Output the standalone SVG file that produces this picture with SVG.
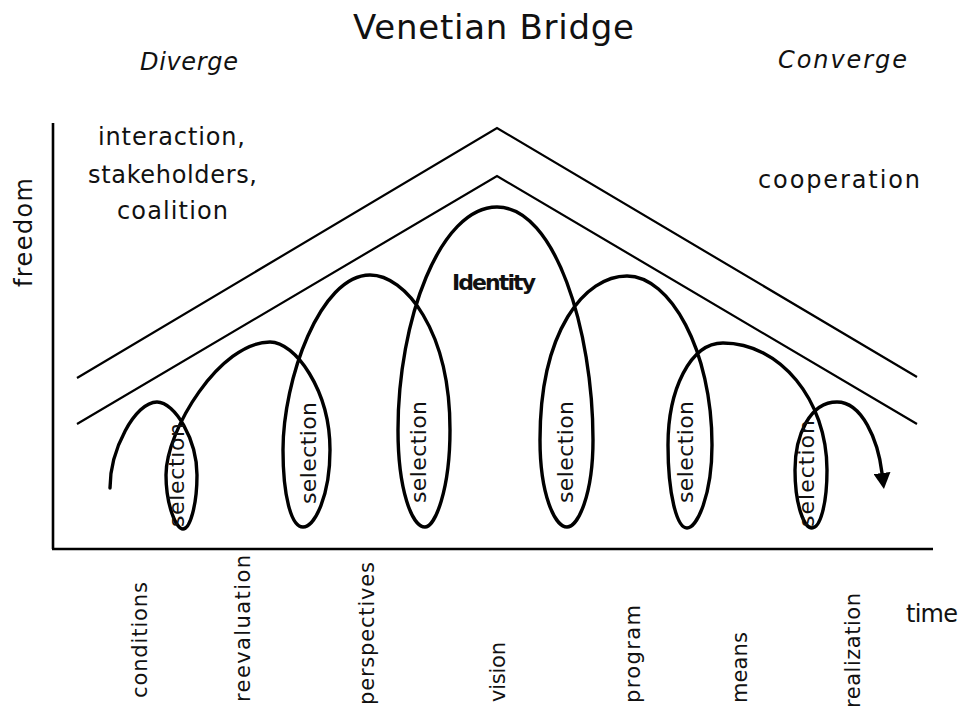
<svg xmlns="http://www.w3.org/2000/svg" width="962" height="710" viewBox="0 0 962 710">
<style>
  text { font-family: "DejaVu Sans", "Liberation Sans", sans-serif; fill: #111; }
  .title { font-size: 34px; }
  .side { font-size: 24px; font-style: italic; }
  .note { font-size: 24px; }
  .sel { font-size: 22px; }
  .lab { font-size: 21px; }
  .ident { font-size: 22px; font-weight: bold; }
  .axis { stroke: #000; stroke-width: 2.6; fill: none; }
  .roof { stroke: #000; stroke-width: 2.2; fill: none; stroke-linejoin: miter; }
  .spiral { stroke: #000; stroke-width: 3.4; fill: none; stroke-linecap: round; }
</style>
<defs>
  <marker id="arrow" markerUnits="userSpaceOnUse" markerWidth="17" markerHeight="17" refX="0" refY="8.5" orient="auto" viewBox="0 0 17 17">
    <path d="M0,0 L16,8.5 L0,17 z" fill="#000"/>
  </marker>
</defs>
<rect width="962" height="710" fill="#fff"/>

<g id="title">
  <text class="title" x="353" y="39" textLength="281">Venetian Bridge</text>
</g>
<g id="diverge"><text class="side" x="140" y="70" textLength="98">Diverge</text></g>
<g id="converge"><text class="side" x="778" y="68" textLength="129">Converge</text></g>

<g id="axes">
  <line class="axis" x1="53" y1="123" x2="53" y2="549"/>
  <line class="axis" x1="52" y1="549" x2="933" y2="549"/>
  <text class="note" transform="translate(32,287) rotate(-90)" x="0" y="0" textLength="109">freedom</text>
  <text class="note" x="906" y="622" textLength="52">time</text>
</g>

<g id="roof">
  <polyline class="roof" points="77,378 497,128 917,377"/>
  <polyline class="roof" points="77,424 497,176 917,424"/>
</g>

<g id="left-note">
  <text class="note" x="98" y="145" textLength="147">interaction,</text>
  <text class="note" x="88" y="183" textLength="169">stakeholders,</text>
  <text class="note" x="117" y="219" textLength="111">coalition</text>
</g>
<g id="right-note">
  <text class="note" x="758" y="188" textLength="162">cooperation</text>
</g>

<g id="connectors">
  <path class="spiral" marker-end="url(#arrow)" d="M110,488
    C110,450 135,402 157,402
    C175,402 197,440 197,475
    C197,505 190,529 183,529
    C176,529 166,505 166,475
    C166,430 220,342 270,342
    C295,342 330,390 330,450
    C330,495 315,527 303,527
    C291,527 283,495 283,450
    C283,380 320,275 370,275
    C405,275 450,330 450,430
    C450,490 435,527 425,527
    C412,527 398,490 398,430
    C398,320 440,207 497,207
    C555,207 593,330 593,440
    C593,495 578,527 567,527
    C555,527 540,495 540,440
    C540,330 585,276 627,276
    C670,276 712,350 712,445
    C712,495 697,528 687,528
    C677,528 668,495 668,445
    C668,390 690,343 723,343
    C780,343 827,400 827,470
    C827,505 820,528 812,528
    C804,528 795,505 795,470
    C795,435 810,402 837,402
    C862,402 878,440 882,473"/>
</g>

<g id="identity"><text class="ident" x="452" y="290" textLength="84">Identity</text></g>

<g id="selections">
  <text class="sel" transform="translate(184,527) rotate(-90)" textLength="104">selection</text>
  <text class="sel" transform="translate(316,504) rotate(-90)" textLength="102">selection</text>
  <text class="sel" transform="translate(426,503) rotate(-90)" textLength="102">selection</text>
  <text class="sel" transform="translate(573,503) rotate(-90)" textLength="102">selection</text>
  <text class="sel" transform="translate(693,503) rotate(-90)" textLength="102">selection</text>
  <text class="sel" transform="translate(814,527) rotate(-90)" textLength="107">selection</text>
</g>

<g id="phases">
  <text class="lab" transform="translate(147,698) rotate(-90)" textLength="116">conditions</text>
  <text class="lab" transform="translate(250,702) rotate(-90)" textLength="147">reevaluation</text>
  <text class="lab" transform="translate(374,705) rotate(-90)" textLength="143">perspectives</text>
  <text class="lab" transform="translate(505,702) rotate(-90)" textLength="60">vision</text>
  <text class="lab" transform="translate(640,703) rotate(-90)" textLength="98">program</text>
  <text class="lab" transform="translate(747,703) rotate(-90)" textLength="71">means</text>
  <text class="lab" transform="translate(860,708) rotate(-90)" textLength="115">realization</text>
</g>
</svg>
